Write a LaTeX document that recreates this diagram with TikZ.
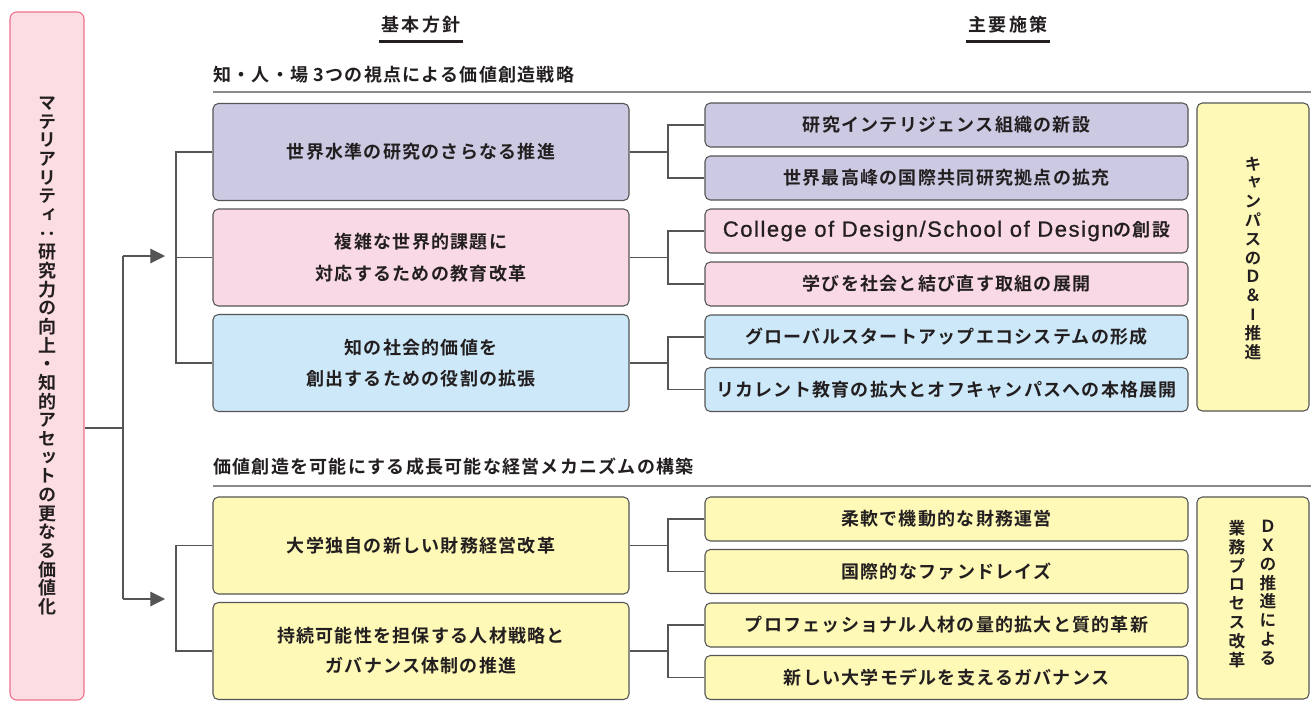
\documentclass[tikz,border=0pt]{standalone}
\usepackage{fontspec}
\usetikzlibrary{arrows.meta}
\setmainfont{Noto Sans CJK JP}[BoldFont={* Bold}]
\newfontfamily\jpb{Noto Sans CJK JP}[BoldFont={* Bold},LetterSpace=7]
\newfontfamily\jph{Noto Sans CJK JP}[BoldFont={* Bold},LetterSpace=14]
\newfontfamily\jpv{Noto Sans CJK JP}[BoldFont={* Bold},RawFeature=+vert]
\newfontfamily\latn{Liberation Sans}[LetterSpace=7,FakeBold=0.8]
\newfontfamily\latnb{Liberation Sans}
\definecolor{cpur}{HTML}{CCC9E3}
\definecolor{cpink}{HTML}{F9D9E5}
\definecolor{cblue}{HTML}{CDE9F9}
\definecolor{cyel}{HTML}{FEF9B7}
\definecolor{cleft}{HTML}{FCDDE2}
\definecolor{cleftb}{HTML}{EE7090}
\definecolor{cbord}{HTML}{555555}
\definecolor{ctext}{HTML}{231F20}
\definecolor{cline}{HTML}{555555}
\definecolor{csec}{HTML}{8A8A8A}
\begin{document}
\begin{tikzpicture}[x=0.75pt,y=-0.75pt,
  every node/.style={inner sep=0pt, text=ctext},
  rbox/.style={draw=cbord, line width=0.8pt, rounded corners=4pt},
  mainbox/.style={rbox, minimum width=416*0.75pt, minimum height=97*0.75pt,
     align=center, font={\jpb\bfseries\fontsize{13.5pt}{23.5pt}\selectfont}},
  subbox/.style={rbox, minimum width=483*0.75pt, minimum height=44*0.75pt,
     font={\jpb\bfseries\fontsize{13.5pt}{16pt}\selectfont}},
  vtext/.style={align=center, font={\jpv\bfseries\fontsize{12.5pt}{14.1pt}\selectfont}},
  conn/.style={draw=cline, line width=0.8pt},
  arr/.style={conn, -{Triangle[length=11pt,width=11pt]}},
  head/.style={font={\jph\bfseries\fontsize{13.5pt}{15pt}\selectfont}, minimum width=83*0.75pt, minimum height=32*0.75pt},
  uline/.style={draw=ctext, line width=2.4pt},
  sect/.style={anchor=west, font={\jpb\bfseries\fontsize{13.5pt}{15pt}\selectfont}},
  secline/.style={draw=csec, line width=1.1pt}
]
\useasboundingbox (0,0) rectangle (1311,701);
\fill[white] (0,0) rectangle (1311,701);

% column headers
\node[head] (h1) at (421,25) {基本方針};
\node[head] (h2) at (1008,25) {主要施策};
\draw[uline] (h1.south west) -- (h1.south east);
\draw[uline] (h2.south west) -- (h2.south east);

% section headers
\node[sect] (s1) at (213,75) {知・人・場 3つの視点による価値創造戦略};
\node[sect] (s2) at (213,467) {価値創造を可能にする成長可能な経営メカニズムの構築};
\coordinate (s1e) at (1311,92);
\coordinate (s2e) at (1311,486);
\draw[secline] (s1e -| s1.west) -- (s1e);
\draw[secline] (s2e -| s2.west) -- (s2e);

% left box
\node[draw=cleftb, fill=cleft, line width=0.8pt, rounded corners=5pt,
      minimum width=74*0.75pt, minimum height=688*0.75pt] (L) at (47,356) {};
\node[vtext, font={\jpv\bfseries\fontsize{13.5pt}{14pt}\selectfont}] (Lt) at (47,356) {マ\\テ\\リ\\ア\\リ\\テ\\ィ\\：\\研\\究\\力\\の\\向\\上\\・\\知\\的\\ア\\セ\\ッ\\ト\\の\\更\\な\\る\\価\\値\\化};

% main boxes
\node[mainbox, fill=cpur] (m1) at (421,152) {世界水準の研究のさらなる推進};
\node[mainbox, fill=cpink] (m2) at (421,257.5) {複雑な世界的課題に\\対応するための教育改革};
\node[mainbox, fill=cblue] (m3) at (421,363) {知の社会的価値を\\創出するための役割の拡張};
\node[mainbox, fill=cyel] (m4) at (421,545.5) {大学独自の新しい財務経営改革};
\node[mainbox, fill=cyel, font={\jpb\bfseries\fontsize{13.5pt}{22.5pt}\selectfont}] (m5) at (421,651) {持続可能性を担保する人材戦略と\\ガバナンス体制の推進};

% sub boxes
\node[subbox, fill=cpur] (r1) at (946.5,125) {研究インテリジェンス組織の新設};
\node[subbox, fill=cpur] (r2) at (946.5,178) {世界最高峰の国際共同研究拠点の拡充};
\node[subbox, fill=cpink] (r3) at (946.5,231) {{\latn\mdseries\fontsize{16.5pt}{18pt}\selectfont College of Design/School of Design}の創設};
\node[subbox, fill=cpink] (r4) at (946.5,284) {学びを社会と結び直す取組の展開};
\node[subbox, fill=cblue] (r5) at (946.5,337) {グローバルスタートアップエコシステムの形成};
\node[subbox, fill=cblue] (r6) at (946.5,389.5) {リカレント教育の拡大とオフキャンパスへの本格展開};
\node[subbox, fill=cyel] (r7) at (946.5,519) {柔軟で機動的な財務運営};
\node[subbox, fill=cyel] (r8) at (946.5,571.5) {国際的なファンドレイズ};
\node[subbox, fill=cyel] (r9) at (946.5,625) {プロフェッショナル人材の量的拡大と質的革新};
\node[subbox, fill=cyel] (r10) at (946.5,677.5) {新しい大学モデルを支えるガバナンス};

% yellow side boxes
\node[rbox, fill=cyel, minimum width=112*0.75pt, minimum height=308*0.75pt] (y1) at (1253,257) {};
\node[vtext] (y1t) at (1253,258) {キ\\ャ\\ン\\パ\\ス\\の\\Ｄ\\＆\\{\latnb\bfseries I}\\推\\進};
\node[rbox, fill=cyel, minimum width=112*0.75pt, minimum height=202*0.75pt] (y2) at (1253,598) {};
\node[vtext, anchor=north] (y2a) at (1268,520) {Ｄ\\Ｘ\\の\\推\\進\\に\\よ\\る};
\node[vtext, anchor=north] (y2b) at (1237,520) {業\\務\\プ\\ロ\\セ\\ス\\改\\革};

% left connectors
\coordinate (lj) at (123,428);
\coordinate (la1) at (123,256);
\coordinate (la2) at (123,599);
\coordinate (at1) at (165,256);
\coordinate (at2) at (165,599);
\draw[conn] (lj -| L.east) -- (lj);
\draw[conn] (la1) -- (la2);
\draw[arr] (la1) -- (at1);
\draw[arr] (la2) -- (at2);

% brackets to main boxes
\coordinate (bx) at (176,0);
\draw[conn] (m1.west) -- (m1.west -| bx) -- (m3.west -| bx) -- (m3.west);
\draw[conn] (m2.west -| bx) -- (m2.west);
\draw[conn] (m4.west) -- (m4.west -| bx) -- (m5.west -| bx) -- (m5.west);

% brackets to sub boxes
\coordinate (rx) at (668,0);
\foreach \m/\a/\b in {m1/r1/r2, m2/r3/r4, m3/r5/r6, m4/r7/r8, m5/r9/r10}{
  \draw[conn] (\m.east) -- (\m.east -| rx);
  \draw[conn] (\a.west) -- (\a.west -| rx) -- (\b.west -| rx) -- (\b.west);
}
\end{tikzpicture}
\end{document}
